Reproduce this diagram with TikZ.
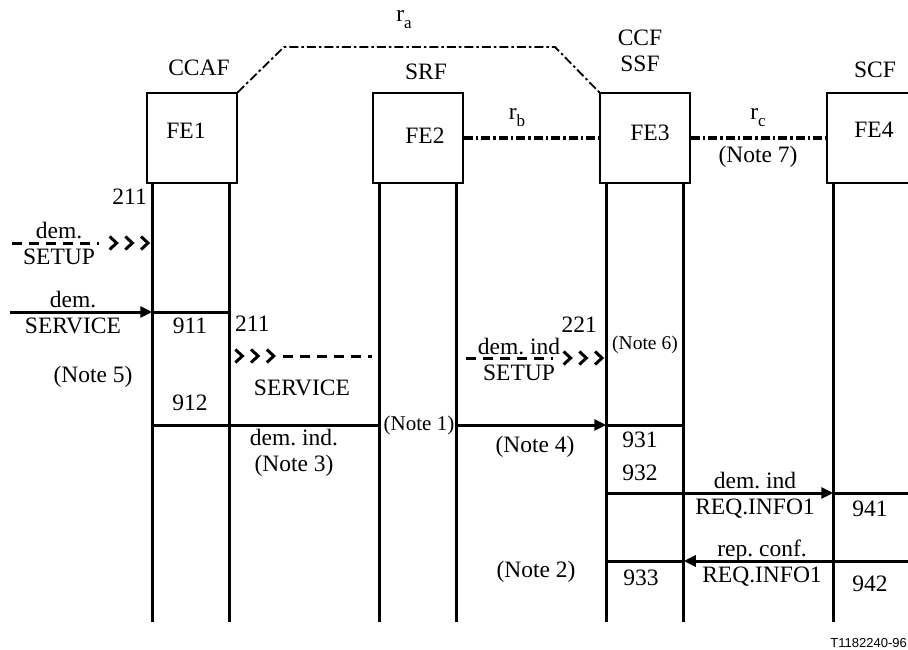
\documentclass[tikz,border=0pt]{standalone}
\usepackage{fontspec}
\setmainfont{Liberation Serif}
\newfontfamily\figsans{Liberation Sans}
\usetikzlibrary{arrows.meta,positioning}
\newcommand{\rsub}[2]{#1\raisebox{-0.3em}{\fontsize{17}{18}\selectfont #2}}

\begin{document}
\frenchspacing
\begin{tikzpicture}[x=1pt,y=-1pt,
	every node/.style={font=\fontsize{23.5}{26}\selectfont, inner sep=0pt},
	fe/.style={draw, line width=1.5pt, minimum width=90pt, minimum height=90pt},
	life/.style={line width=3pt},
	bar/.style={line width=3pt},
	msg/.style={line width=3pt, -{Triangle[length=12pt,width=11pt]}},
	rel/.style={line width=3.2pt, dash pattern=on 9pt off 3pt on 2.5pt off 3pt},
	pend/.style={line width=3pt, dash pattern=on 10pt off 7pt},
	chev/.style={draw=white, line width=3pt, shorten >=2pt, -{Straight Barb[length=7pt,width=13pt,sep=5pt,line width=3pt,color=black]Straight Barb[length=7pt,width=13pt,sep=5pt,line width=3pt,color=black]Straight Barb[length=7pt,width=13pt,line width=3pt,color=black]}},
	note/.style={align=center}]
	\useasboundingbox (0,0) rectangle (908,650);

	% functional entities
	\node[fe] (FE1) at (192,138) {};
	\node[fe] (FE2) at (418,138) {};
	\node[fe] (FE3) at (645,138) {};
	\node[fe] (FE4) at (872,138) {};
	\node (FE1t) at (186,131) {FE1};
	\node (FE2t) at (425,136) {FE2};
	\node (FE3t) at (650,133) {FE3};
	\node (FE4t) at (874,130) {FE4};
	\node (ccaf) at (199,68) {CCAF};
	\node (srf) at (426,72) {SRF};
	\node[note] (ccf) at (640,51) {CCF\\SSF};
	\node (scf) at (875,70) {SCF};

	% relationships
	\coordinate (ka) at (284,47);
	\coordinate (kb) at (555,47);
	\draw[rel, line width=1.8pt] (FE1.north east) -- (ka) -- (kb) -- (FE3.north west);
	\draw[rel] (FE2.east) -- (FE3.west);
	\draw[rel] (FE3.east) -- (FE4.west);
	\node (ra) at (404,20) {\rsub{r}{a}};
	\node (rb) at (517,118) {\rsub{r}{b}};
	\node (rc) at (758,118) {\rsub{r}{c}};
	\node (n7) at (758,157) {(Note 7)};

	% lifelines
	\coordinate (A1) at ([xshift=6pt]FE1.south west);
	\coordinate (B1) at ([xshift=-8pt]FE1.south east);
	\coordinate (A2) at ([xshift=7pt]FE2.south west);
	\coordinate (B2) at ([xshift=-7pt]FE2.south east);
	\coordinate (A3) at ([xshift=7pt]FE3.south west);
	\coordinate (B3) at ([xshift=-7pt]FE3.south east);
	\coordinate (A4) at ([xshift=7pt]FE4.south west);
	\foreach \c in {A1,B1,A2,B2,A3,B3,A4}
		\draw[life] (\c) -- (\c |- 0,622);

	% messages
	\coordinate (in1) at (12,243);
	\coordinate (in1e) at (99,243);
	\draw[pend] (in1) -- (in1e);
	\draw[chev] (104,243) -- (A1 |- 0,243);
	\coordinate (in2) at (10,312);
	\draw[msg] (in2) -- (A1 |- 0,312);
	\draw[bar] (A1 |- 0,312) -- (B1 |- 0,312);
	\draw[chev] (232,356) -- (278,356);
	\coordinate (sv1) at (283,356);
	\coordinate (sv2) at (372,356);
	\draw[pend] (sv1) -- (sv2);
	\coordinate (st1) at (466,358);
	\coordinate (st2) at (553,358);
	\draw[pend] (st1) -- (st2);
	\draw[chev] (558,358) -- (A3 |- 0,358);
	\draw[bar] (A1 |- 0,425) -- (A2 |- 0,425);
	\draw[msg] (B2 |- 0,425) -- (A3 |- 0,425);
	\draw[bar] (A3 |- 0,425) -- (B3 |- 0,425);
	\coordinate (E1) at (908,493);
	\coordinate (E2) at (908,561);
	\draw[msg] (A3 |- 0,493) -- (A4 |- 0,493);
	\draw[bar] (A4 |- 0,493) -- (E1);
	\draw[msg] (E2) -- (B3 |- 0,561);
	\draw[bar] (B3 |- 0,561) -- (A3 |- 0,561);

	% labels
	\node[anchor=east] (t211a) at (147,197) {211};
	\node[note] (lsetup) at (59,243) {dem.\\SETUP};
	\node[note] (lserv) at (73,313) {dem.\\SERVICE};
	\node (t911) at (190,326) {911};
	\node[anchor=west] (t211b) at (235,324) {211};
	\node (lserv2) at (302,388) {SERVICE};
	\node (n5) at (93,377) {(Note 5)};
	\node (t912) at (190,403) {912};
	\node[note] (lind) at (294,453) {dem. ind.\\(Note 3)};
	\node[font=\fontsize{21}{24}\selectfont] (n1) at (419,425) {(Note 1)};
	\node (n4) at (535,447) {(Note 4)};
	\node[anchor=east] (t221) at (597,325) {221};
	\node[note] (lind2) at (519,359) {dem. ind\\SETUP};
	\node[font=\fontsize{19.5}{22}\selectfont] (n6) at (645,345) {(Note 6)};
	\node (t931) at (640,440) {931};
	\node (t932) at (640,473) {932};
	\node[note] (lreq) at (755,495) {dem. ind\\REQ.INFO1};
	\node (t941) at (870,509) {941};
	\node[note] (lrep) at (762,563) {rep. conf.\\REQ.INFO1};
	\node (t942) at (870,584) {942};
	\node (t933) at (641,578) {933};
	\node (n2) at (536,572) {(Note 2)};
	\node[anchor=east, font=\figsans\fontsize{13}{15}\selectfont] (tag) at (907,643) {T1182240-96};
\end{tikzpicture}
\end{document}
